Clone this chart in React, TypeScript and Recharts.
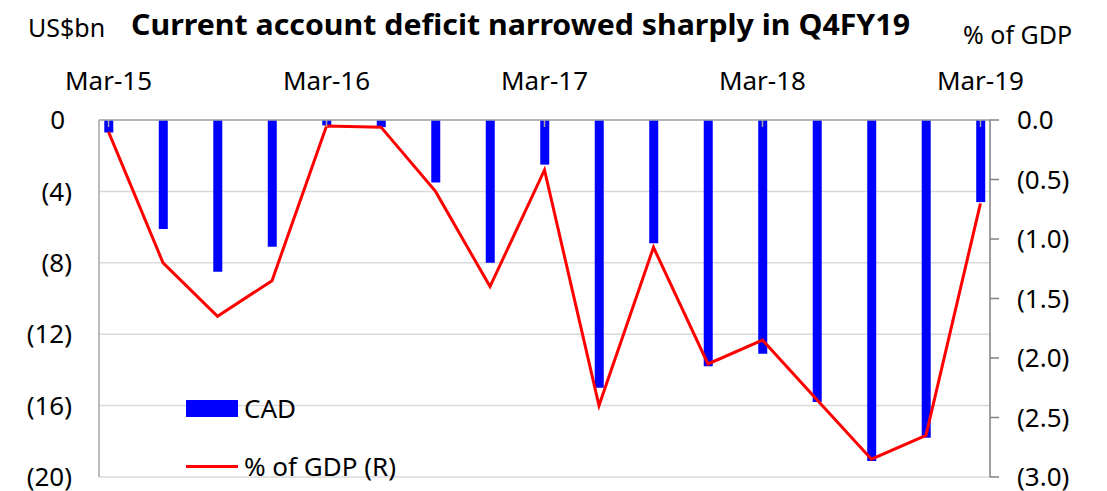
import React from "react";
import { Bar, CartesianGrid, ComposedChart, Legend, Line, XAxis, YAxis } from "recharts";

const quarters = [
  "Mar-15", "Jun-15", "Sep-15", "Dec-15",
  "Mar-16", "Jun-16", "Sep-16", "Dec-16",
  "Mar-17", "Jun-17", "Sep-17", "Dec-17",
  "Mar-18", "Jun-18", "Sep-18", "Dec-18",
  "Mar-19",
];
// current account balance, US$bn
const cad = [-0.7, -6.1, -8.5, -7.1, -0.3, -0.4, -3.5, -8.0, -2.5, -15.0, -6.9, -13.8, -13.1, -15.8, -19.1, -17.8, -4.6];
// % of GDP (right axis)
const gdpPct = [-0.1, -1.2, -1.65, -1.35, -0.05, -0.06, -0.6, -1.4, -0.42, -2.4, -1.07, -2.05, -1.85, -2.35, -2.85, -2.65, -0.7];

const xTicks = [0, 4, 8, 12, 16];
const leftTicks = [0, -4, -8, -12, -16, -20];
const rightTicks = [0, -0.5, -1, -1.5, -2, -2.5, -3];

const data = quarters.map((q, i) => ({ i, q, cad: cad[i], pct: gdpPct[i] }));

const FONT = "'Noto Sans', sans-serif";
const tickStyle = { fontSize: 26, fill: "#000", fontFamily: FONT };

const fmtLeft = (v: number) => (v === 0 ? "0\u2008" : `(${Math.abs(v)})`);
const fmtRight = (v: number) => (v === 0 ? "0.0" : `(${Math.abs(v).toFixed(1)})`);

function LegendBox() {
  return (
    <div style={{ fontFamily: FONT, fontSize: 26, color: "#000", lineHeight: "30px" }}>
      <div style={{ display: "flex", alignItems: "center" }}>
        <span style={{ display: "inline-block", width: 52, height: 17, background: "#0000ff", marginRight: 6 }} />
        CAD
      </div>
      <div style={{ display: "flex", alignItems: "center", marginTop: 28 }}>
        <span style={{ display: "inline-block", width: 52, height: 3, background: "#ff0000", marginRight: 6 }} />
        % of GDP (R)
      </div>
    </div>
  );
}

export default function App() {
  return (
    <div style={{ position: "absolute", left: 0, top: 0, width: 1107, height: 491, background: "#fff" }}>
      <ComposedChart width={1107} height={491} data={data} margin={{ top: 0, right: 0, bottom: 14, left: 0 }}>
        <CartesianGrid yAxisId="left" vertical={false} stroke="#d9d9d9" strokeWidth={1.5} />
        <XAxis
          dataKey="i"
          type="number"
          orientation="top"
          height={120}
          domain={[-0.175, 16.175]}
          ticks={xTicks}
          interval={0}
          tickFormatter={(v: number) => quarters[v]}
          tick={tickStyle}
          axisLine={{ stroke: "#a6a6a6", strokeWidth: 1.5 }}
          tickLine={{ stroke: "#a6a6a6", strokeWidth: 1.5 }}
          tickSize={-7}
          tickMargin={37}
        />
        <YAxis
          yAxisId="left"
          width={99}
          domain={[-20, 0]}
          ticks={leftTicks}
          interval={0}
          tickFormatter={fmtLeft}
          tick={tickStyle}
          axisLine={{ stroke: "#a6a6a6", strokeWidth: 1.5 }}
          tickLine={false}
          tickSize={0}
          tickMargin={27}
        />
        <YAxis
          yAxisId="right"
          orientation="right"
          width={117}
          domain={[-3, 0]}
          ticks={rightTicks}
          interval={0}
          tickFormatter={fmtRight}
          tick={{ ...tickStyle, textAnchor: "start" }}
          axisLine={{ stroke: "#808080", strokeWidth: 1.5 }}
          tickLine={{ stroke: "#808080", strokeWidth: 1.5 }}
          tickSize={9}
          tickMargin={18}
        />
        <Bar yAxisId="left" dataKey="cad" name="CAD" fill="#0000ff" barSize={9} isAnimationActive={false} />
        <Line
          yAxisId="right"
          dataKey="pct"
          name="% of GDP (R)"
          type="linear"
          stroke="#ff0000"
          strokeWidth={3}
          dot={false}
          isAnimationActive={false}
        />
        <Legend
          layout="vertical"
          align="center"
          verticalAlign="middle"
          content={() => <LegendBox />}
          wrapperStyle={{ left: 186, top: 393, width: "auto" }}
        />
      </ComposedChart>
      <svg width={1107} height={491} style={{ position: "absolute", left: 0, top: 0, pointerEvents: "none" }}>
        <text x={28} y={37} fontFamily={FONT} fontSize={25} fill="#000">US$bn</text>
        <text
          x={131}
          y={35}
          fontFamily={FONT}
          fontWeight={700}
          fontSize={28}
          fill="#000"
          textLength={779}
          lengthAdjust="spacingAndGlyphs"
        >
          Current account deficit narrowed sharply in Q4FY19
        </text>
        <text x={963} y={44} fontFamily={FONT} fontSize={25} fill="#000">% of GDP</text>
      </svg>
    </div>
  );
}
